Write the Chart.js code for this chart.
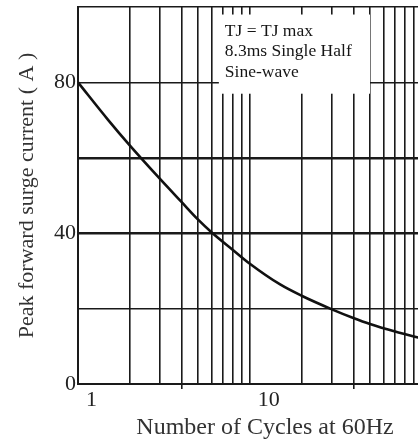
<!DOCTYPE html>
<html lang="en">
<head>
    <meta charset="UTF-8">
    <title>Peak Forward Surge Current</title>
    <script src="https://cdn.jsdelivr.net/npm/chart.js"></script>
    <style>
        body {
            margin: 0;
            background: #fff;
        }
        /* the datasheet figure is cropped on the right, so the plot runs past the edge */
        .chart-box {
            width: 418px;
            height: 442px;
            overflow: hidden;
        }
    </style>
</head>
<body>
    <div class="chart-box">
        <canvas id="surgeChart" width="452" height="442"></canvas>
    </div>

    <script>
        // curve
        const cycles = [1, 1.5, 2, 3, 4, 5, 6, 8, 10, 15, 20, 30, 40, 50, 70, 100];
        const surgeCurrent = [80, 70.0, 63.3, 54.4, 48.3, 43.6, 40.2, 35.5, 31.9, 26.4, 23.4, 19.8, 17.5, 15.9, 13.9, 12.1];

        // axis ticks / grid
        const xGrid = [1, 2, 3, 4, 5, 6, 7, 8, 9, 10, 20, 30, 40, 50, 60, 70, 80, 90, 100];
        const xLabels = [1, 10];
        const xTickMarks = [4, 40];
        const yLabels = [0, 40, 80];
        const yHeavy = [40, 60];

        const noteLines = ['TJ = TJ max', '8.3ms Single Half', 'Sine-wave'];
        const noteBox = { xMin: 6.6, xMax: 50, yMin: 77, yMax: 98 };

        const serif = "'Liberation Serif', 'Times New Roman', serif";
        const ink = '#1a1a1a';

        const notePlugin = {
            id: 'note',
            beforeDatasetsDraw(chart) {
                const { ctx, scales } = chart;
                const left = scales.x.getPixelForValue(noteBox.xMin);
                const right = scales.x.getPixelForValue(noteBox.xMax);
                const top = scales.y.getPixelForValue(noteBox.yMax);
                const bottom = scales.y.getPixelForValue(noteBox.yMin);
                ctx.save();
                ctx.fillStyle = '#fff';
                ctx.fillRect(left, top, right - left, bottom - top);
                ctx.fillStyle = '#151515';
                ctx.font = '17.5px ' + serif;
                ctx.textBaseline = 'alphabetic';
                noteLines.forEach((line, i) => {
                    ctx.fillText(line, left + 6, top + 21 + i * 20.5);
                });
                ctx.restore();
            }
        };

        const ctx = document.getElementById('surgeChart').getContext('2d');

        new Chart(ctx, {
            type: 'line',
            data: {
                datasets: [{
                    data: cycles.map((c, i) => ({ x: c, y: surgeCurrent[i] })),
                    borderColor: '#111',
                    borderWidth: 2.6,
                    pointRadius: 0,
                    fill: false,
                    cubicInterpolationMode: 'monotone'
                }]
            },
            options: {
                responsive: false,
                animation: false,
                devicePixelRatio: 1,
                layout: {
                    padding: { top: 7, left: 0, right: 0, bottom: 0 }
                },
                plugins: {
                    legend: { display: false },
                    tooltip: { enabled: false }
                },
                scales: {
                    x: {
                        type: 'logarithmic',
                        min: 1,
                        max: 150,
                        afterBuildTicks: scale => {
                            scale.ticks = xGrid.map(v => ({ value: v }));
                        },
                        afterFit: scale => {
                            scale.height = 58;
                            scale.paddingLeft = 0;
                            scale.paddingRight = 0;
                        },
                        grid: {
                            color: ink,
                            lineWidth: 1.6,
                            tickLength: 5,
                            tickWidth: 1.6,
                            tickColor: c => (c.tick && xTickMarks.includes(c.tick.value)) ? ink : 'rgba(0,0,0,0)'
                        },
                        border: { color: ink, width: 2 },
                        ticks: {
                            autoSkip: false,
                            maxRotation: 0,
                            align: 'start',
                            labelOffset: 8,
                            padding: 0,
                            color: '#222',
                            font: { family: serif, size: 22, lineHeight: 1 },
                            callback: v => xLabels.includes(v) ? String(v) : ''
                        },
                        title: {
                            display: true,
                            text: 'Number of Cycles at 60Hz',
                            color: '#333',
                            font: { family: serif, size: 24 },
                            padding: { top: 0, bottom: 0 }
                        }
                    },
                    y: {
                        min: 0,
                        max: 100,
                        afterFit: scale => {
                            scale.width = 78;
                            scale.paddingTop = 0;
                            scale.paddingBottom = 0;
                        },
                        grid: {
                            color: ink,
                            drawTicks: false,
                            lineWidth: c => (c.tick && yHeavy.includes(c.tick.value)) ? 2.6 : 1.4
                        },
                        border: { color: ink, width: 2 },
                        ticks: {
                            stepSize: 20,
                            padding: 2,
                            color: '#222',
                            font: { family: serif, size: 22, lineHeight: 1 },
                            callback: v => yLabels.includes(v) ? String(v) : ''
                        },
                        title: {
                            display: true,
                            text: 'Peak forward surge current ( A )',
                            color: '#333',
                            font: { family: serif, size: 22 },
                            padding: { top: 14, bottom: 0 }
                        }
                    }
                }
            },
            plugins: [notePlugin]
        });
    </script>
</body>
</html>
